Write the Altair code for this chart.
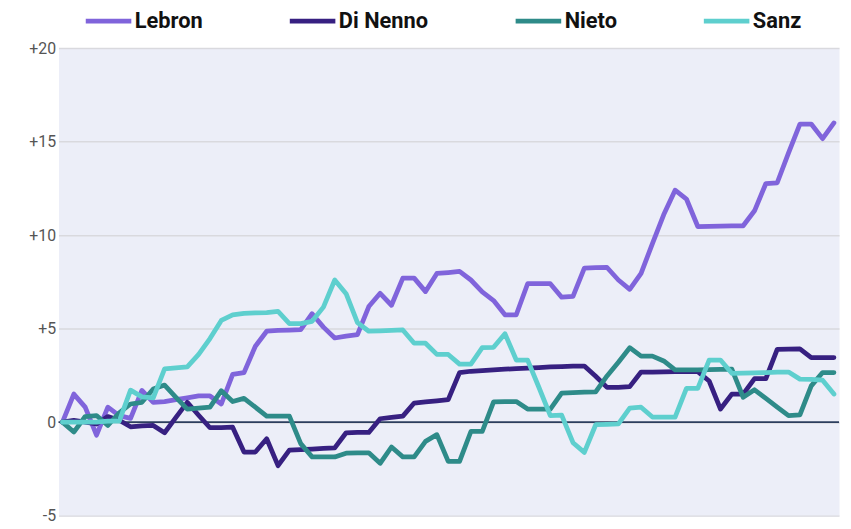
import altair as alt
import pandas as pd

days = list(range(69))
names = ["Lebron", "Di Nenno", "Nieto", "Sanz"]
colors = ["#8064db", "#372081", "#2e8b89", "#5ecfce"]

lebron = [0, 1.5, 0.8, -0.7, 0.8, 0.35, 0.2, 1.7, 1.05, 1.1,
          1.2, 1.3, 1.4, 1.4, 0.97, 2.55, 2.65, 4.06, 4.86, 4.9,
          4.92, 4.95, 5.8, 5.08, 4.5, 4.6, 4.68, 6.18, 6.89, 6.25,
          7.7, 7.7, 6.98, 7.95, 8.0, 8.06, 7.6, 6.96, 6.5, 5.74,
          5.74, 7.4, 7.4, 7.4, 6.68, 6.72, 8.24, 8.26, 8.27, 7.6,
          7.1, 7.95, 9.55, 11.1, 12.4, 11.93, 10.46, 10.47, 10.48, 10.5,
          10.5, 11.3, 12.76, 12.8, 14.4, 15.94, 15.94, 15.16, 16.0]
dinenno = [0, 0.1, 0.0, -0.1, 0.3, 0.1, -0.25, -0.2, -0.18, -0.57,
           0.25, 1.06, 0.37, -0.3, -0.3, -0.27, -1.6, -1.6, -0.89, -2.33,
           -1.5, -1.47, -1.44, -1.41, -1.38, -0.57, -0.55, -0.55, 0.18, 0.25,
           0.32, 1.02, 1.08, 1.14, 1.2, 2.65, 2.72, 2.76, 2.8, 2.83,
           2.86, 2.89, 2.92, 2.95, 2.97, 3.0, 3.0, 2.45, 1.86, 1.86,
           1.9, 2.68, 2.68, 2.69, 2.7, 2.7, 2.7, 2.2, 0.7, 1.5,
           1.5, 2.33, 2.33, 3.89, 3.9, 3.92, 3.45, 3.45, 3.45]
nieto = [0, -0.53, 0.3, 0.35, -0.18, 0.5, 0.97, 1.06, 1.77, 1.98,
         1.33, 0.7, 0.75, 0.8, 1.68, 1.1, 1.27, 0.8, 0.32, 0.32,
         0.32, -1.15, -1.86, -1.86, -1.86, -1.66, -1.65, -1.64, -2.2, -1.33,
         -1.86, -1.86, -1.03, -0.67, -2.1, -2.1, -0.5, -0.5, 1.08, 1.1,
         1.1, 0.7, 0.7, 0.7, 1.55, 1.58, 1.6, 1.62, 2.47, 3.2,
         3.98, 3.53, 3.53, 3.27, 2.79, 2.8, 2.8, 2.81, 2.82, 2.83,
         1.33, 1.73, 1.27, 0.8, 0.35, 0.39, 1.94, 2.65, 2.65]
sanz = [0, 0, 0, 0, 0.05, 0.05, 1.71, 1.35, 1.3, 2.85,
        2.9, 2.95, 3.62, 4.47, 5.44, 5.74, 5.82, 5.84, 5.86, 5.92,
        5.27, 5.27, 5.39, 6.15, 7.6, 6.87, 5.32, 4.86, 4.88, 4.9,
        4.93, 4.22, 4.22, 3.62, 3.62, 3.1, 3.1, 3.98, 4.0, 4.73,
        3.32, 3.32, 1.85, 0.35, 0.37, -1.1, -1.62, -0.14, -0.12, -0.09,
        0.75, 0.8, 0.27, 0.27, 0.27, 1.8, 1.8, 3.32, 3.32, 2.61,
        2.62, 2.64, 2.65, 2.67, 2.68, 2.3, 2.28, 2.24, 1.5]
y_ticks = [-5, 0, 5, 10, 15, 20]

rows = []
for k, (name, vals) in enumerate(zip(names, [lebron, dinenno, nieto, sanz])):
    for d, v in zip(days, vals):
        rows.append({"day": d, "player": name, "value": v, "rank": k})
df = pd.DataFrame(rows)
zero_df = pd.DataFrame({"value": [0]})

yscale = alt.Scale(domain=[-5, 20], nice=False, zero=False)
xscale = alt.Scale(domain=[-0.35, 68.45], nice=False, zero=False)

yaxis = alt.Axis(values=y_ticks, title=None, domain=False, ticks=False,
                 labelExpr="datum.value > 0 ? '+' + datum.value : '' + datum.value",
                 labelPadding=3, labelFontSize=16, labelColor="#555555",
                 labelFont="Roboto", gridColor="#d9d9de", gridWidth=1.5,
                 minExtent=46, maxExtent=46)

rule = alt.Chart(zero_df).mark_rule(color="#2c3e5e", strokeWidth=2).encode(
    y=alt.Y("value:Q", scale=yscale, axis=yaxis)
)

lines = alt.Chart(df).mark_line(strokeWidth=4.8, strokeJoin="round", strokeCap="round").encode(
    x=alt.X("day:Q", scale=xscale, axis=None),
    y=alt.Y("value:Q", scale=yscale, axis=yaxis),
    color=alt.Color("player:N", scale=alt.Scale(domain=names, range=colors),
                    sort=names,
                    legend=alt.Legend(title=None, orient="none", legendX=25, legendY=-53,
                                      direction="horizontal", symbolType="stroke",
                                      symbolSize=2116, symbolStrokeWidth=5,
                                      labelFont="Roboto",
                                      labelFontSize=22, labelFontWeight="bold",
                                      labelColor="#111111", labelOffset=1,
                                      columnPadding=77, labelLimit=0)),
    order=alt.Order("day:Q"),
)

chart = alt.layer(rule, lines).properties(
    width=788, height=472,
    autosize=alt.AutoSizeParams(type="none"),
    padding={"left": 51, "top": 38, "right": 4, "bottom": 11},
    background="#ffffff",
).configure_view(fill="#eceef8", stroke="transparent")

chart.save("out.html", embed_options={"renderer": "svg", "actions": False})
